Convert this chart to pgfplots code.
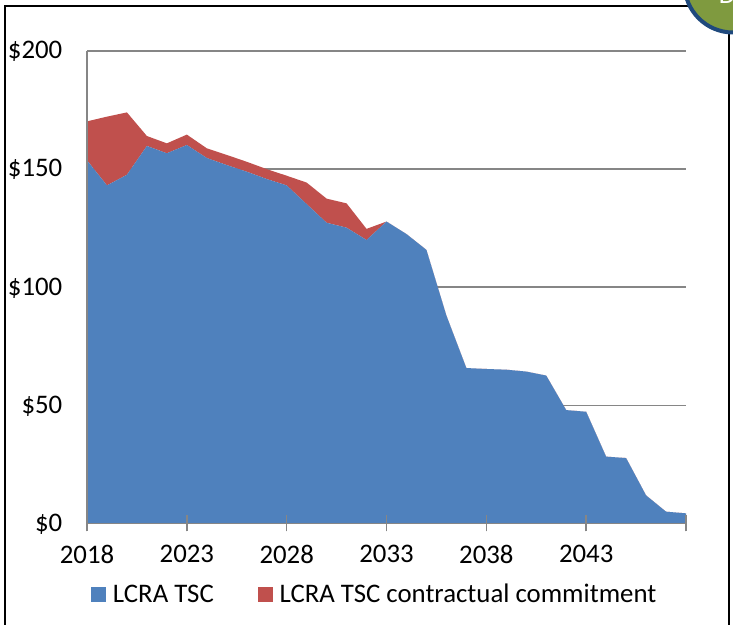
\documentclass[border=0pt]{standalone}
\usepackage{pgfplots}
\pgfplotsset{compat=1.18}
\usepackage{fontspec}
\setmainfont{Carlito}
\definecolor{gbar}{HTML}{868686}
\definecolor{sblue}{HTML}{4F81BD}
\definecolor{sred}{HTML}{C0504D}
\definecolor{bgreen}{HTML}{7F9A3F}
\definecolor{bblue}{HTML}{1F497D}
\begin{document}
\begin{tikzpicture}
\path[use as bounding box] (0pt,0pt) rectangle (549.75pt,468.75pt);
\begin{axis}[
 at={(65.25pt,76.125pt)},anchor=south west,
 scale only axis,
 width=449.25pt,height=354.4pt,
 xmin=2018,xmax=2048,ymin=0,ymax=200,
 stack plots=y,
 axis lines=left,axis line style={draw=gbar,line width=1.2pt,-},
 xtick={2018,2023,2028,2033,2038,2043,2048},
 xticklabels={2018,2023,2028,2033,2038,2043,{}},
 ytick={0,50,100,150,200},
 yticklabels={\$0,\$50,\$100,\$150,\$200},
 ymajorgrids,
 grid style={draw=gbar,line width=1.2pt},
 major tick length=12pt,
 tick align=center,
 x tick style={draw=gbar,line width=1.2pt},
 y tick style={draw=none},
 ticklabel style={font=\fontsize{20.1pt}{23pt}\selectfont,text=black},
 xticklabel style={yshift=-7pt},
 yticklabel style={xshift=-9pt,yshift=-0.5pt},
 legend columns=2,
 legend style={draw=none,fill=none,at={(0.0,-0.150)},anchor=west,
   font=\fontsize{20.1pt}{23pt}\selectfont,/tikz/every even column/.append style={column sep=31pt}},
 legend image code/.code={\fill[#1] (0pt,-5.6pt) rectangle (11.25pt,5.6pt);\path (14.25pt,0pt);},
]
\addplot[draw=none,fill=sblue] coordinates {
(2018,153.7)(2019,143.1)(2020,147.6)(2021,159.8)(2022,156.7)(2023,160.2)(2024,154.7)(2025,151.7)(2026,148.9)(2027,145.8)(2028,143.1)(2029,135.2)(2030,127.3)(2031,125.2)(2032,120.0)(2033,127.8)(2034,122.5)(2035,115.8)(2036,88.0)(2037,65.8)(2038,65.4)(2039,65.1)(2040,64.3)(2041,62.6)(2042,48.0)(2043,47.3)(2044,28.3)(2045,27.7)(2046,11.9)(2047,5.0)(2048,4.3)
} \closedcycle;
\addplot[draw=none,fill=sred] coordinates {
(2018,16.5)(2019,29.1)(2020,26.4)(2021,4.2)(2022,4.2)(2023,4.4)(2024,4.1)(2025,4.3)(2026,4.2)(2027,4.2)(2028,4.1)(2029,9.1)(2030,10.2)(2031,10.3)(2032,4.7)(2033,0)(2034,0)(2035,0)(2036,0)(2037,0)(2038,0)(2039,0)(2040,0)(2041,0)(2042,0)(2043,0)(2044,0)(2045,0)(2046,0)(2047,0)(2048,0)
} \closedcycle;
\legend{LCRA TSC,LCRA TSC contractual commitment}
\end{axis}
\begin{axis}[
 at={(65.25pt,76.125pt)},anchor=south west,
 scale only axis,
 width=449.25pt,height=354.4pt,
 xmin=2018,xmax=2048,ymin=0,ymax=200,
 axis lines=left,axis line style={draw=gbar,line width=1.2pt,-},
 xtick={2018,2023,2028,2033,2038,2043,2048},
 xticklabels={},
 ytick=\empty,
 major tick length=12pt,
 tick align=center,
 x tick style={draw=gbar,line width=1.2pt},
]
\end{axis}
\begin{scope}[x=0.75pt,y=-0.75pt,shift={(0pt,468.75pt)}]
\draw[black,line width=1.3pt] (5,625)--(5,6)--(700,6);
\draw[black,line width=1.3pt] (729,20)--(729,625);
\clip (0,0) rectangle (733,625);
\draw[bblue,fill=bgreen,line width=3pt] (733,-16) circle[radius=48.5];
\node[text=white,font=\fontsize{20.1pt}{23pt}\selectfont,anchor=base] at (727,4) {D};
\end{scope}
\end{tikzpicture}
\end{document}
